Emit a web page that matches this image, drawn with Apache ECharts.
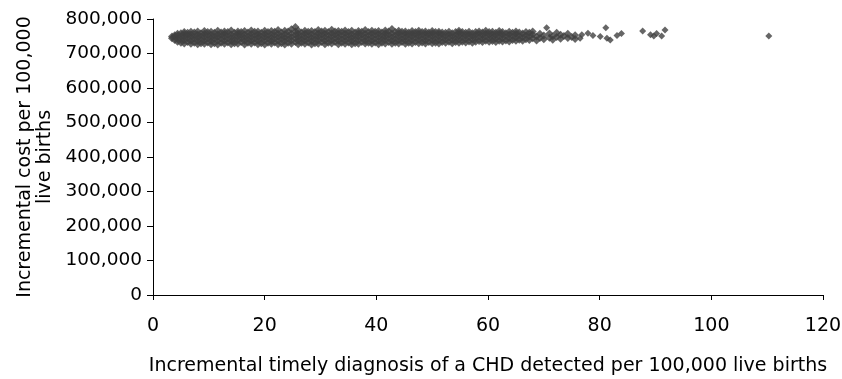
<!DOCTYPE html>
<html>
<head>
<meta charset="utf-8">
<script src="https://cdn.jsdelivr.net/npm/echarts@6/dist/echarts.min.js"></script>
<style>
html,body{margin:0;padding:0;background:#fff;}
#chart{width:842px;height:379px;}
</style>
</head>
<body>
<div id="chart"></div>
<script>
// x: incremental timely diagnoses per 100,000 live births; y: incremental cost per 100,000 live births
const xTicks = [0, 20, 40, 60, 80, 100, 120];
const yTicks = [0, 100000, 200000, 300000, 400000, 500000, 600000, 700000, 800000];

// dense cloud, read column by column: [x, [y values]]
const bandColumns = [
 [3.4,[744000,749000]],
 [3.9,[739000,748000,753000]],
 [4.4,[734000,743000,752000,757000]],
 [5.0,[731000,741000,750000,759000]],
 [5.6,[729000,739000,748000,757000,762000]],
 [6.2,[733000,744000,753000,760000]],
 [6.8,[728000,737000,747000,756000,763000]],
 [7.4,[731000,742000,751000,761000]],
 [8.0,[727000,736000,746000,755000,764000]],
 [8.6,[730000,740000,750000,759000]],
 [9.2,[728000,738000,748000,757000,765000]],
 [9.8,[732000,743000,753000,762000]],
 [10.4,[727000,736000,745000,754000,763000]],
 [11.0,[730000,741000,751000,760000]],
 [11.6,[726000,737000,747000,756000,766000]],
 [12.2,[731000,742000,752000,761000]],
 [12.8,[728000,738000,748000,757000,764000]],
 [13.4,[732000,743000,753000,762000]],
 [14.0,[727000,736000,746000,755000,767000]],
 [14.6,[730000,740000,750000,760000]],
 [15.2,[728000,739000,749000,758000,764000]],
 [15.8,[733000,744000,753000,762000]],
 [16.4,[726000,736000,746000,755000,765000]],
 [17.0,[731000,741000,751000,761000]],
 [17.6,[728000,738000,748000,757000,767000]],
 [18.2,[732000,743000,752000,763000]],
 [18.8,[727000,737000,747000,756000,764000]],
 [19.4,[730000,740000,750000,760000]],
 [20.0,[726000,738000,748000,757000,766000]],
 [20.6,[731000,742000,752000,762000]],
 [21.2,[728000,736000,746000,755000,765000]],
 [21.8,[732000,743000,753000,763000]],
 [22.4,[727000,738000,748000,758000,768000]],
 [23.0,[730000,741000,751000,761000]],
 [23.6,[726000,736000,746000,756000,766000]],
 [24.2,[731000,742000,752000,764000]],
 [24.8,[728000,738000,748000,757000,770000]],
 [25.5,[733000,744000,754000,764000,777000]],
 [26.0,[727000,737000,747000,757000,767000]],
 [26.6,[731000,741000,751000,761000]],
 [27.2,[728000,738000,748000,758000,766000]],
 [27.8,[732000,743000,753000,763000]],
 [28.4,[726000,736000,746000,756000,765000]],
 [29.0,[730000,741000,751000,762000]],
 [29.6,[728000,739000,749000,759000,768000]],
 [30.2,[733000,744000,754000,764000]],
 [30.8,[727000,737000,747000,757000,766000]],
 [31.4,[731000,742000,752000,762000]],
 [32.0,[729000,739000,749000,759000,769000]],
 [32.6,[733000,744000,754000,764000]],
 [33.2,[727000,737000,747000,757000,765000]],
 [33.8,[731000,742000,752000,763000]],
 [34.4,[728000,738000,748000,758000,767000]],
 [35.0,[732000,743000,753000,762000]],
 [35.6,[727000,736000,746000,756000,766000]],
 [36.2,[730000,741000,751000,761000]],
 [36.8,[728000,739000,749000,759000,765000]],
 [37.4,[733000,744000,754000,763000]],
 [38.0,[729000,737000,747000,757000,768000]],
 [38.6,[731000,742000,752000,762000]],
 [39.2,[728000,738000,748000,758000,766000]],
 [39.8,[732000,743000,753000,763000]],
 [40.4,[727000,737000,747000,757000,765000]],
 [41.0,[731000,741000,751000,761000]],
 [41.6,[729000,739000,749000,759000,767000]],
 [42.2,[733000,744000,754000,764000]],
 [42.8,[728000,738000,748000,758000,771000]],
 [43.4,[731000,742000,752000,762000]],
 [44.0,[729000,739000,749000,759000,766000]],
 [44.6,[733000,743000,753000,763000]],
 [45.2,[728000,738000,748000,757000,764000]],
 [45.8,[731000,742000,752000,761000]],
 [46.4,[729000,739000,749000,758000,765000]],
 [47.0,[733000,744000,754000,762000]],
 [47.6,[730000,740000,750000,759000,766000]],
 [48.2,[732000,743000,753000,762000]],
 [48.8,[729000,738000,748000,757000,764000]],
 [49.4,[733000,744000,754000,761000]],
 [50.0,[730000,740000,750000,759000,765000]],
 [50.6,[731000,742000,752000,762000]],
 [51.2,[729000,739000,749000,758000,763000]],
 [51.8,[733000,744000,754000,761000]],
 [52.4,[731000,741000,751000,760000]],
 [53.0,[734000,745000,755000,763000]],
 [53.6,[730000,740000,750000,759000]],
 [54.2,[733000,743000,753000,762000]],
 [54.8,[731000,741000,751000,760000,766000]],
 [55.4,[734000,745000,755000,762000]],
 [56.0,[732000,742000,752000,760000]],
 [56.6,[735000,746000,756000,763000]],
 [57.2,[731000,741000,751000,759000]],
 [57.8,[734000,744000,754000,762000]],
 [58.4,[736000,747000,757000,764000]],
 [59.0,[733000,743000,753000,761000]],
 [59.6,[737000,748000,758000,766000]],
 [60.2,[734000,744000,754000,762000]],
 [60.8,[736000,746000,756000,763000]],
 [61.4,[733000,743000,753000,760000]],
 [62.0,[737000,748000,758000,765000]],
 [62.6,[735000,745000,755000,762000]],
 [63.2,[738000,749000,759000]],
 [63.8,[735000,745000,755000,763000]],
 [64.4,[739000,750000,760000]],
 [65.0,[737000,747000,757000,764000]],
 [65.6,[740000,751000,761000]],
 [66.2,[737000,748000,758000]],
 [66.8,[741000,752000,762000]],
 [67.4,[739000,750000,760000]],
 [68.0,[744000,755000,764000]],
 [68.7,[738000,749000]],
 [69.3,[745000,757000]],
 [70.0,[741000,752000]],
 [71.0,[746000,758000]],
 [71.6,[740000,750000]],
 [72.3,[748000,760000]],
 [73.0,[743000,754000]],
 [73.6,[751000]],
 [74.3,[745000,757000]],
 [75.0,[748000]],
 [75.6,[742000,753000]]
];

// sparse points to the right of the cloud: [x, y]
const sparsePoints = [
 [70.5,775000],[76.5,744000],[76.8,754000],[77.9,759000],[78.8,752000],
 [80.1,749000],[81.1,775000],[81.3,744000],[81.9,739000],[83.1,752000],
 [83.9,758000],[87.7,765000],[89.1,754000],[89.7,751000],[90.2,758000],
 [91.1,751000],[91.7,768000],[110.3,751000]
];

const bandPoints = [];
bandColumns.forEach(function (c) {
  c[1].forEach(function (y) { bandPoints.push([c[0], y]); });
});

const FONT = 'DejaVu Sans';
const MARK = '#404040';
const chart = echarts.init(document.getElementById('chart'), null, {renderer: 'canvas'});
chart.setOption({
  animation: false,
  backgroundColor: '#fff',
  grid: {left: 153, right: 19, top: 19, bottom: 84, containLabel: false, outerBoundsMode: 'none'},
  xAxis: {
    type: 'value',
    min: xTicks[0], max: xTicks[xTicks.length - 1], interval: 20,
    name: 'Incremental timely diagnosis of a CHD detected per 100,000 live births',
    nameLocation: 'middle', nameGap: 62,
    nameTextStyle: {color: '#000', fontFamily: FONT, fontSize: 19},
    axisLine: {show: true, onZero: false, lineStyle: {color: '#000', width: 1}},
    axisTick: {show: true, length: 5, lineStyle: {color: '#000'}},
    splitLine: {show: false},
    axisLabel: {color: '#000', fontFamily: FONT, fontSize: 19, margin: 22}
  },
  yAxis: {
    type: 'value',
    min: yTicks[0], max: yTicks[yTicks.length - 1], interval: 100000,
    name: 'Incremental cost per 100,000\nlive births',
    nameLocation: 'middle', nameGap: 92,
    nameTextStyle: {color: '#000', fontFamily: FONT, fontSize: 19, lineHeight: 20},
    axisLine: {show: true, onZero: false, lineStyle: {color: '#000', width: 1}},
    axisTick: {show: true, length: 6, lineStyle: {color: '#000'}},
    splitLine: {show: false},
    axisLabel: {
      color: '#000', fontFamily: FONT, fontSize: 18.5, margin: 11,
      formatter: function (v) { return v.toLocaleString('en-US'); }
    }
  },
  series: [{
    type: 'scatter',
    symbol: 'diamond',
    symbolSize: 8,
    itemStyle: {color: MARK},
    data: bandPoints
  }, {
    type: 'scatter',
    symbol: 'diamond',
    symbolSize: 7,
    itemStyle: {color: MARK},
    data: sparsePoints
  }]
});
</script>
</body>
</html>
